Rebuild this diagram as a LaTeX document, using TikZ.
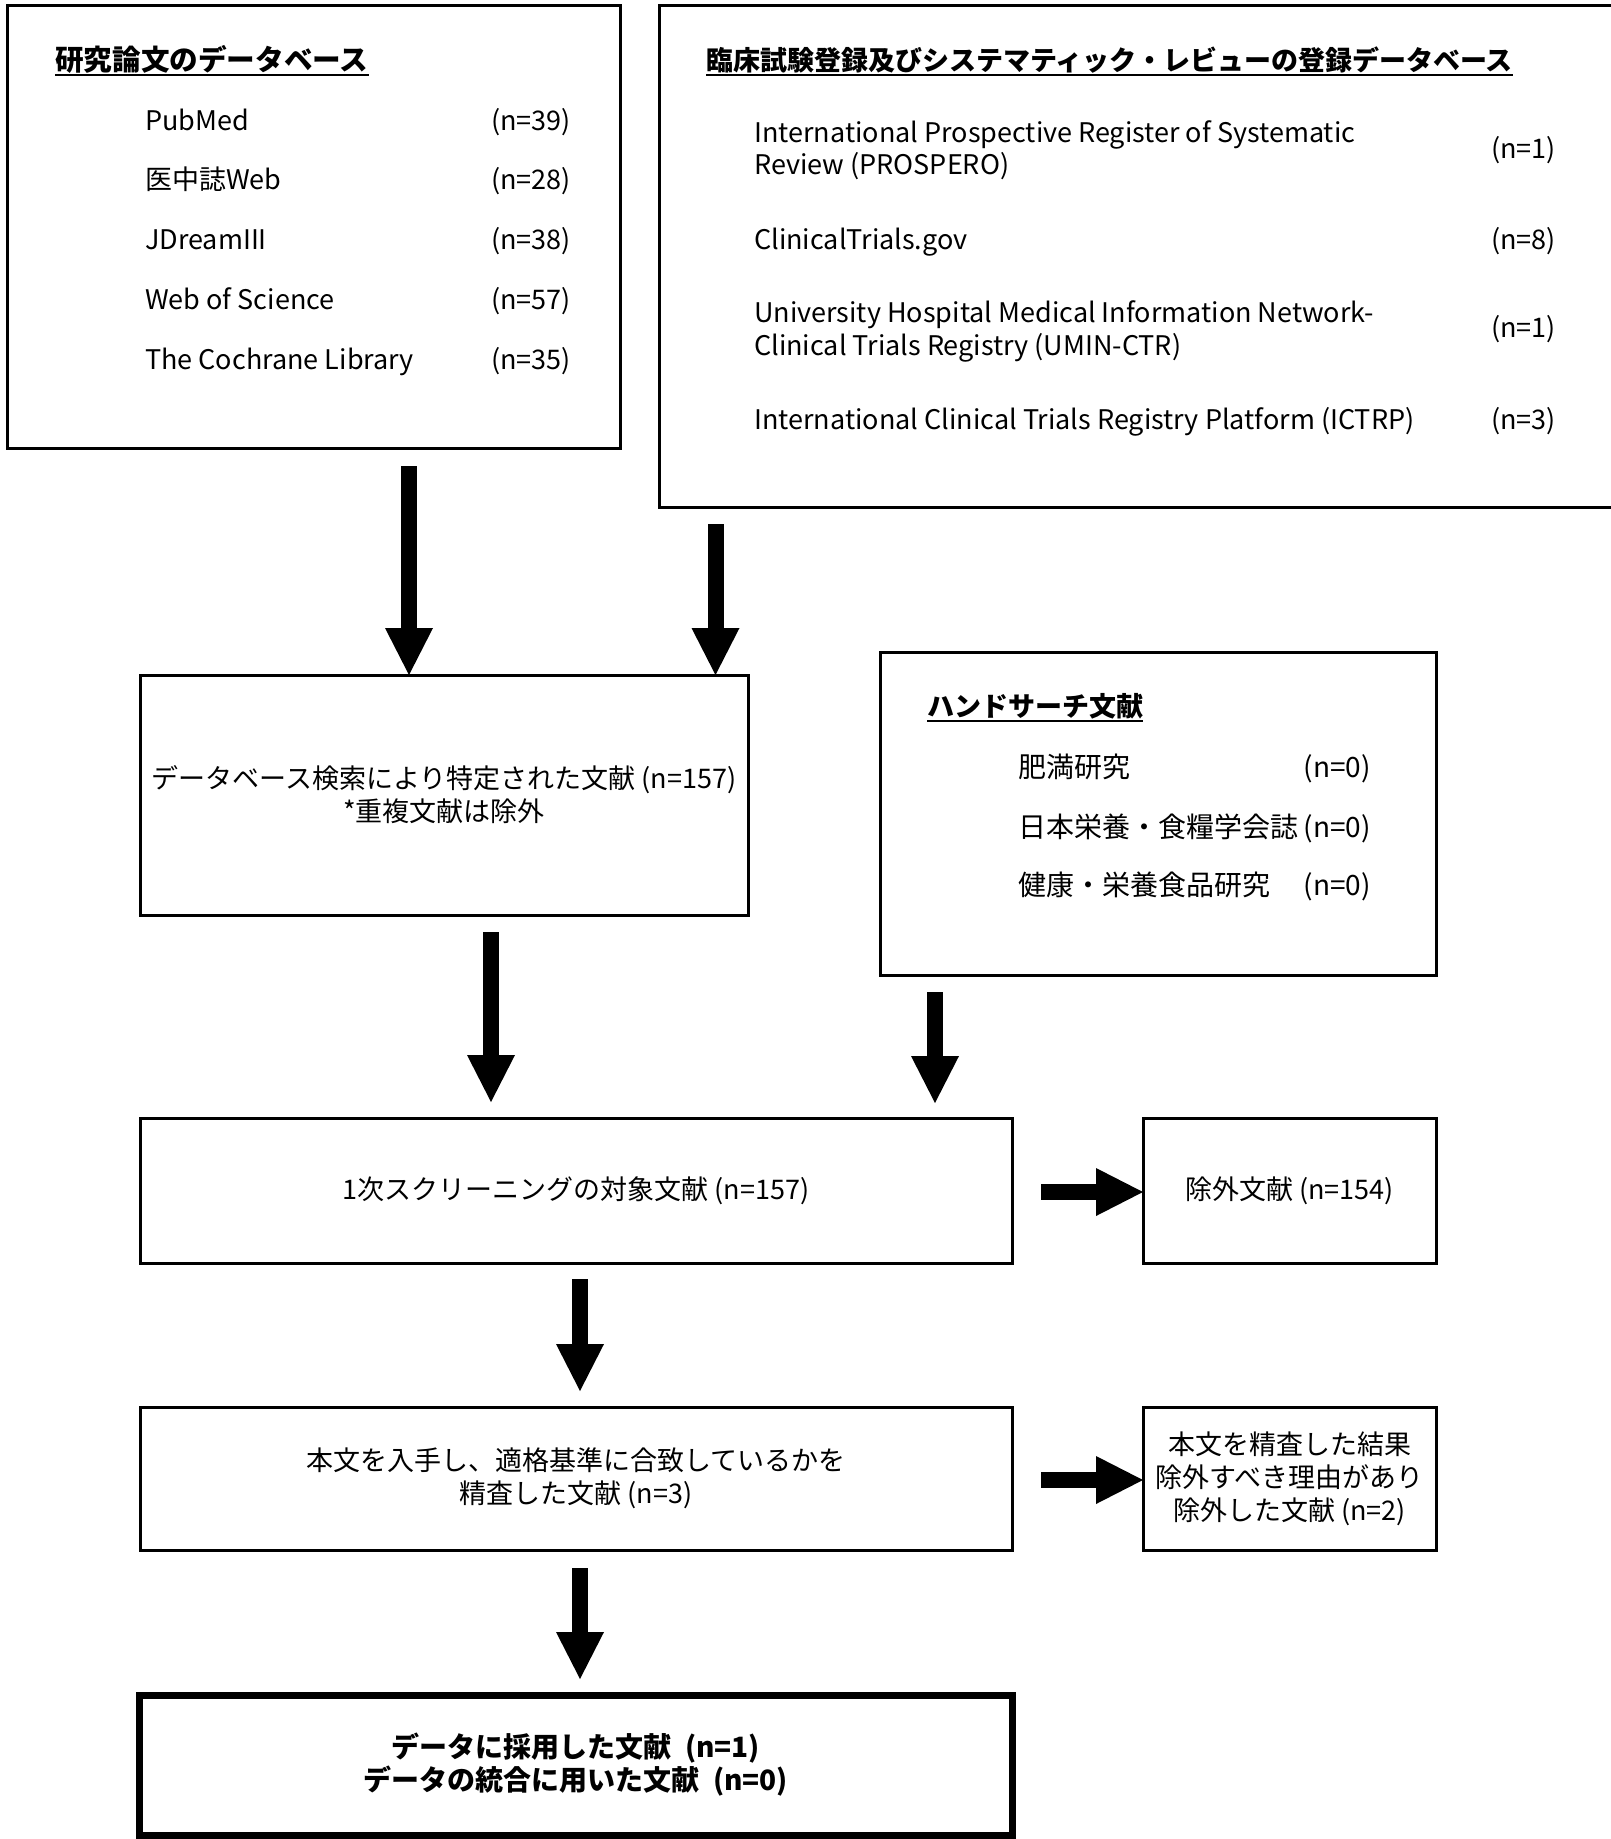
\documentclass[tikz,border=0pt]{standalone}
\usepackage{fontspec}
\setmainfont{Noto Sans CJK JP}
\usetikzlibrary{arrows.meta}
\tikzset{
  box/.style={draw, line width=3pt, rectangle, inner sep=0pt, outer sep=0pt},
  flow/.style={box, align=center, font=\fontsize{27pt}{33pt}\selectfont},
  ttl/.style={anchor=base west, inner sep=0pt, font=\bfseries\fontsize{27pt}{32pt}\selectfont},
  rowa/.style={anchor=base west, inner sep=0pt, font=\fontsize{27pt}{32pt}\selectfont},
  cnta/.style={anchor=base east, inner sep=0pt, font=\fontsize{27pt}{32pt}\selectfont},
  rowb/.style={anchor=base west, inner sep=0pt, font=\fontsize{28pt}{32pt}\selectfont},
  cntb/.style={anchor=base east, inner sep=0pt, font=\fontsize{28pt}{32pt}\selectfont},
  barrow/.style={line width=16pt, -{Triangle[length=47pt,width=48pt,line width=0pt]}},
  uline/.style={line width=2pt}
}
\begin{document}
\begin{tikzpicture}[x=1pt,y=-1pt]
\useasboundingbox (0,0) rectangle (1611,1839);
\clip (0,0) rectangle (1611,1839);
\fill[white] (0,0) rectangle (1611,1839);

% boxes
\node[box, minimum width=613pt, minimum height=443pt] (b1) at (313.5,226.5) {};
\node[box, minimum width=990pt, minimum height=502pt] (b2) at (1154,256) {};
\node[flow, minimum width=608pt, minimum height=240pt] (b3) at (444,795)
  {データベース検索により特定された文献 (n=157)\\*重複文献は除外};
\node[box, minimum width=556pt, minimum height=323pt] (b4) at (1158,813.5) {};
\node[flow, minimum width=872pt, minimum height=145pt] (b5) at (576,1190.5)
  {1次スクリーニングの対象文献 (n=157)};
\node[flow, minimum width=293pt, minimum height=145pt] (b6) at (1289.5,1190.5)
  {除外文献 (n=154)};
\node[flow, minimum width=872pt, minimum height=143pt] (b7) at (576,1478.5)
  {本文を入手し、適格基準に合致しているかを\\精査した文献 (n=3)};
\node[flow, minimum width=293pt, minimum height=143pt] (b8) at (1289.5,1478.5)
  {本文を精査した結果\\除外すべき理由があり\\除外した文献 (n=2)};
\node[flow, line width=7pt, font=\bfseries\fontsize{28pt}{33pt}\selectfont,
      minimum width=873pt, minimum height=140pt] (b9) at (575.5,1765)
  {データに採用した文献\hspace{0.5em}(n=1)\\データの統合に用いた文献\hspace{0.5em}(n=0)};

% box 1 contents
\node[ttl, font=\bfseries\fontsize{28.6pt}{32pt}\selectfont] (t1) at (55,70) {研究論文のデータベース};
\draw[uline] ([yshift=-5pt]t1.base west) -- ([yshift=-5pt]t1.base east);
\node[rowa] (r11) at (145,130) {PubMed};
\node[rowa] (r12) at (145,189) {医中誌Web};
\node[rowa] (r13) at (145,249) {JDreamIII};
\node[rowa] (r14) at (145,309) {Web of Science};
\node[rowa] (r15) at (145,369) {The Cochrane Library};
\node[cnta] (c11) at (571,130) {(n=39)};
\node[cnta] (c12) at (571,189) {(n=28)};
\node[cnta] (c13) at (571,249) {(n=38)};
\node[cnta] (c14) at (571,309) {(n=57)};
\node[cnta] (c15) at (571,369) {(n=35)};

% box 2 contents
\node[ttl] (t2) at (706,70) {臨床試験登録及びシステマティック・レビューの登録データベース};
\draw[uline] ([yshift=-5pt]t2.base west) -- ([yshift=-5pt]t2.base east);
\node[rowa] (r21a) at (754,142) {International Prospective Register of Systematic};
\node[rowa] (r21b) at (754,174) {Review (PROSPERO)};
\node[cnta] (c21) at (1556,158) {(n=1)};
\node[rowa] (r22) at (754,249) {ClinicalTrials.gov};
\node[cnta] (c22) at (1556,249) {(n=8)};
\node[rowa] (r23a) at (754,322) {University Hospital Medical Information Network-};
\node[rowa] (r23b) at (754,355) {Clinical Trials Registry (UMIN-CTR)};
\node[cnta] (c23) at (1556,337) {(n=1)};
\node[rowa] (r24) at (754,429) {International Clinical Trials Registry Platform (ICTRP)};
\node[cnta] (c24) at (1556,429) {(n=3)};

% box 4 contents
\node[ttl] (t4) at (927,716) {ハンドサーチ文献};
\draw[uline] ([yshift=-5pt]t4.base west) -- ([yshift=-5pt]t4.base east);
\node[rowb] (r41) at (1018,777) {肥満研究};
\node[rowb] (r42) at (1018,837) {日本栄養・食糧学会誌};
\node[rowb] (r43) at (1018,895) {健康・栄養食品研究};
\node[cntb] (c41) at (1371,777) {(n=0)};
\node[cntb] (c42) at (1371,837) {(n=0)};
\node[cntb] (c43) at (1371,895) {(n=0)};

% arrows
\coordinate (a1s) at (409,466);
\coordinate (a2s) at (715.5,524);
\coordinate (a3s) at (491,932);
\coordinate (a4s) at (935,992);
\coordinate (a5s) at (1041,1192);
\coordinate (a6s) at (580,1279);
\coordinate (a7s) at (1041,1480);
\coordinate (a8s) at (580,1568);
\draw[barrow] (a1s) -- (a1s |- b3.north);
\draw[barrow] (a2s) -- (a2s |- b3.north);
\draw[barrow, shorten >=16pt] (a3s) -- (a3s |- b5.north);
\draw[barrow, shorten >=15pt] (a4s) -- (a4s |- b5.north);
\draw[barrow] (a5s) -- (a5s -| b6.west);
\draw[barrow, shorten >=16pt] (a6s) -- (a6s |- b7.north);
\draw[barrow] (a7s) -- (a7s -| b8.west);
\draw[barrow, shorten >=16pt] (a8s) -- (a8s |- b9.north);
\end{tikzpicture}
\end{document}
